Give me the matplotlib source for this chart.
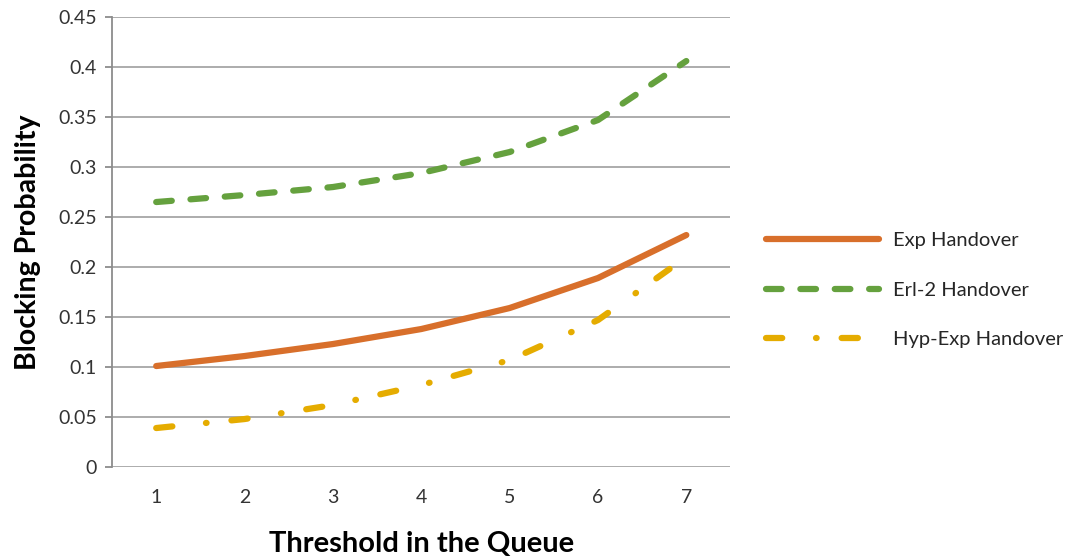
import matplotlib
matplotlib.use("Agg")
import matplotlib.pyplot as plt

plt.rcParams['font.family'] = ['Lato', 'DejaVu Sans']

# Threshold values on the x axis
thresholds = [1, 2, 3, 4, 5, 6, 7]

# Blocking probability per handover model
exp_handover = [0.101, 0.111, 0.123, 0.138, 0.159, 0.189, 0.232]
erl2_handover = [0.265, 0.272, 0.280, 0.294, 0.315, 0.347, 0.406]
hypexp_handover = [0.039, 0.048, 0.062, 0.082, 0.107, 0.147, 0.210]

yticks = [0, 0.05, 0.1, 0.15, 0.2, 0.25, 0.3, 0.35, 0.4, 0.45]
ytick_labels = ["0", "0.05", "0.1", "0.15", "0.2", "0.25", "0.3", "0.35", "0.4", "0.45"]

fig = plt.figure(figsize=(10.7, 5.6), dpi=100)
ax = fig.add_axes([0.1047, 0.166, 0.578, 0.8036])

lw = 4.5
ax.plot(thresholds, exp_handover, color='#D86F2B', lw=lw,
        solid_capstyle='round', solid_joinstyle='round', label='Exp Handover')
ax.plot(thresholds, erl2_handover, color='#65A13E', lw=lw,
        linestyle=(0, (2.5, 3.0)), dash_capstyle='round', dash_joinstyle='round',
        label='Erl-2 Handover')
ax.plot(thresholds, hypexp_handover, color='#E5AC00', lw=lw,
        linestyle=(0, (2.6, 5.4, 0.1, 4.0)), dash_capstyle='round', dash_joinstyle='round',
        label='Hyp-Exp Handover')

ax.set_xlim(0.5, 7.5)
ax.set_ylim(0, 0.45)
ax.set_xticks(thresholds)
ax.set_yticks(yticks)
ax.set_yticklabels(ytick_labels)

ax.grid(axis='y', color='#A6A6A6', lw=1.3)
ax.set_axisbelow(True)
for s in ['top', 'right', 'bottom']:
    ax.spines[s].set_visible(False)
ax.spines['left'].set_color('#8C8C8C')
ax.spines['left'].set_linewidth(1.3)
ax.tick_params(axis='y', length=5, width=1.3, color='#8C8C8C', labelsize=14, pad=6, labelcolor='#333333')
ax.tick_params(axis='x', length=0, labelsize=14, pad=16, labelcolor='#333333')

ax.set_xlabel("Threshold in the Queue", fontsize=21, fontweight='bold', labelpad=18)
ax.set_ylabel("Blocking Probability", fontsize=20.5, fontweight='bold', labelpad=12)

ax.legend(loc='center left', bbox_to_anchor=(1.028, 0.393), frameon=False, fontsize=14.5,
          handlelength=5.6, handletextpad=0.7, labelspacing=1.6, labelcolor='#262626')

fig.savefig("out.png", dpi=100)
